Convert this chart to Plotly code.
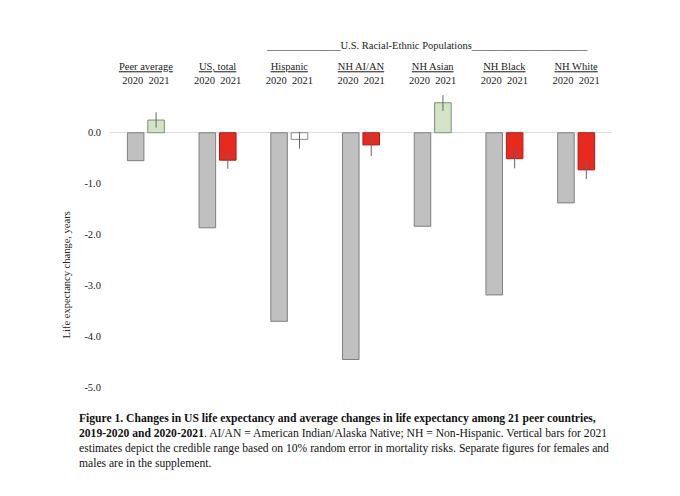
import plotly.graph_objects as go

# life expectancy change (years)
groups = ["Peer average", "US, total", "Hispanic", "NH AI/AN", "NH Asian", "NH Black", "NH White"]
change_2020 = [-0.55, -1.87, -3.71, -4.46, -1.84, -3.19, -1.38]
change_2021 = [0.25, -0.54, -0.13, -0.24, 0.59, -0.51, -0.73]
upper_2021 = [0.40, -0.37, 0.02, -0.01, 0.74, -0.28, -0.54]
lower_2021 = [0.10, -0.71, -0.31, -0.46, 0.43, -0.70, -0.91]
years = ["2020", "2021"]
y_ticks = [0, -1, -2, -3, -4, -5]

SERIF = "Liberation Serif, Times New Roman, serif"

# 2021 bar colour: green if gain, red if loss, white when the range crosses zero
fill_2021, edge_2021 = [], []
for lo, hi in zip(lower_2021, upper_2021):
    if lo < 0 < hi:
        fill_2021.append("#ffffff"); edge_2021.append("#8a8a8a")
    elif hi > 0:
        fill_2021.append("#d4e4c6"); edge_2021.append("#7e8f70")
    else:
        fill_2021.append("#e8291f"); edge_2021.append("#a8201a")

err_plus = [hi - v for hi, v in zip(upper_2021, change_2021)]
err_minus = [v - lo for lo, v in zip(lower_2021, change_2021)]

tick_labels = [f"<u>{g}</u><br>{years[0]}\u00a0 {years[1]}" for g in groups]

fig = go.Figure()
fig.add_trace(go.Bar(
    x=groups, y=change_2020, name=years[0],
    marker=dict(color="#c0c0c0", line=dict(color="#7f7f7f", width=1)),
))
fig.add_trace(go.Bar(
    x=groups, y=change_2021, name=years[1],
    marker=dict(color=fill_2021, line=dict(color=edge_2021, width=1)),
    error_y=dict(type="data", symmetric=False, array=err_plus, arrayminus=err_minus,
                 color="#666666", thickness=1, width=0),
))

# page body adds an 8px offset, so margins are trimmed on the top/left
fig.update_layout(
    width=680, height=496,
    margin=dict(l=102, r=76, t=79, b=112),
    paper_bgcolor="white", plot_bgcolor="white",
    barmode="group", bargap=0.43, bargroupgap=0.19,
    showlegend=False,
    font=dict(family=SERIF, size=10.5, color="#222222"),
    xaxis=dict(side="top", tickmode="array", tickvals=groups, ticktext=tick_labels,
               ticks="", showline=False, showgrid=False, zeroline=False,
               range=[-0.5, 6.5], ticklabelstandoff=0),
    yaxis=dict(range=[-5.1, 0.9], tickmode="array", tickvals=y_ticks,
               ticktext=[f"{v:.1f}" for v in y_ticks], ticks="", showgrid=False,
               showline=False, zeroline=True, zerolinecolor="#dcdcdc", zerolinewidth=1,
               ticklabelstandoff=8),
)

fig.add_annotation(
    text="Life expectancy change, years", textangle=-90,
    xref="paper", yref="y", x=-0.102, y=-2.8, showarrow=False,
    font=dict(family=SERIF, size=10.5, color="#222222"),
)
fig.add_annotation(
    text="______________U.S. Racial-Ethnic Populations______________________",
    xref="paper", yref="paper", x=0.307, y=1.135, xanchor="left", yanchor="middle",
    showarrow=False, font=dict(family=SERIF, size=10.5, color="#222222"),
)
fig.add_annotation(
    text=("<b>Figure 1. Changes in US life expectancy and average changes in life expectancy among 21 peer countries,"
          "<br>2019-2020 and 2020-2021</b>. AI/AN = American Indian/Alaska Native; NH = Non-Hispanic. Vertical bars for 2021"
          "<br>estimates depict the credible range based on 10% random error in mortality risks. Separate figures for females and"
          "<br>males are in the supplement."),
    xref="paper", yref="paper", x=-0.066, y=-0.058, xanchor="left", yanchor="top",
    align="left", showarrow=False, font=dict(family=SERIF, size=11.6, color="#111111"),
)

fig.write_html("out.html")
